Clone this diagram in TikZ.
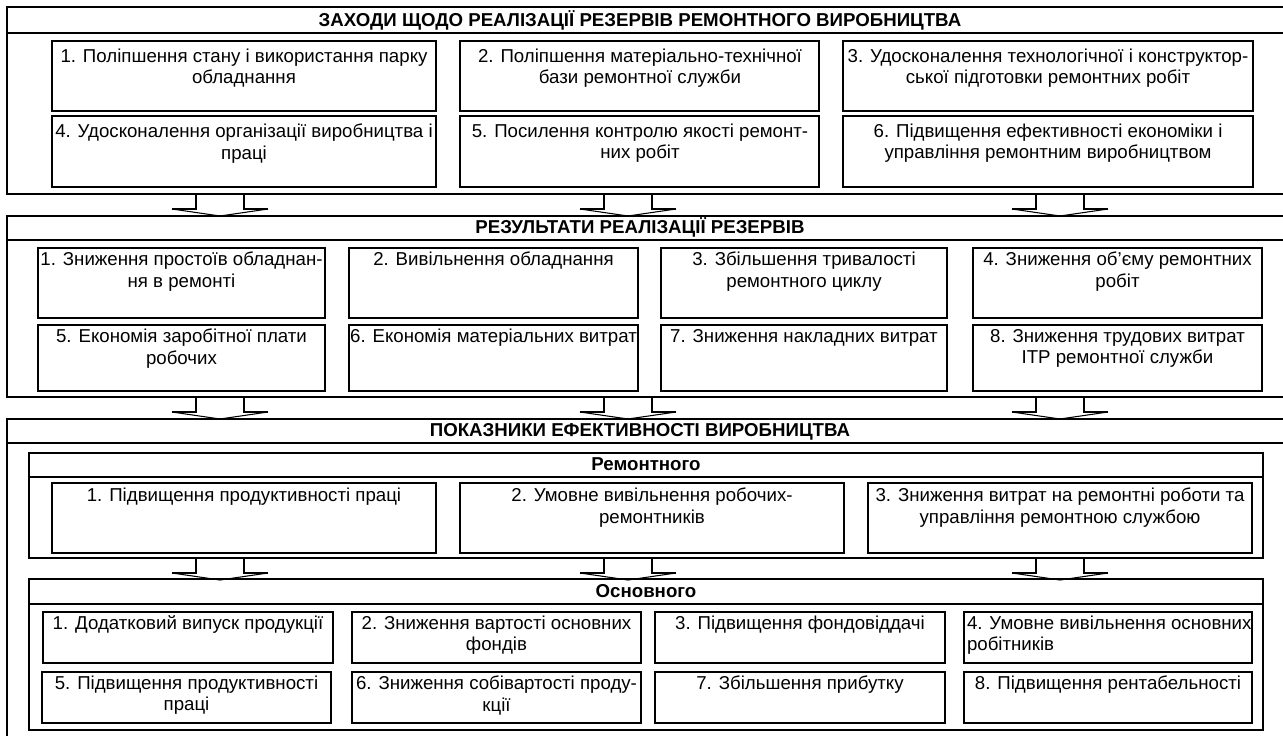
\documentclass[tikz,border=0pt]{standalone}
\usepackage{fontspec}
\setmainfont{Liberation Sans}

\tikzset{every picture/.style={line width=1.5pt}}
\tikzset{
  boxtext/.style={anchor=north, inner sep=0pt, align=center, font=\fontsize{14}{16}\selectfont},
  headtext/.style={anchor=base, inner sep=0pt, font=\bfseries\fontsize{14}{16}\selectfont},
  blockarr/.pic={
    \draw (-24,0) -- (-24,15) -- (-48,15) ;
    \draw (24,0) -- (24,15) -- (48,15) ;
    \draw [line width=0.8pt] (-48,15) -- (0,22) -- (48,15) ;
  }
}

\begin{document}
\begin{tikzpicture}[x=0.75pt,y=0.75pt,yscale=-1,xscale=1]
\useasboundingbox (0,0) rectangle (1283,736);
\clip (0,0) rectangle (1283,736);

%Shape: Rectangle [id:sec1] 
\draw (7,7) rectangle (1300,194) ;
\draw (7,33) -- (1300,33) ;
%Shape: Rectangle [id:sec2] 
\draw (7,216) rectangle (1300,397) ;
\draw (7,240) -- (1300,240) ;
%Shape: Rectangle [id:sec3] 
\draw (7,419) rectangle (1300,760) ;
\draw (7,443) -- (1300,443) ;
%Shape: Rectangle [id:rem] 
\draw (29,453) rectangle (1263,558) ;
\draw (29,477) -- (1263,477) ;
%Shape: Rectangle [id:osn] 
\draw (29,579) rectangle (1263,730) ;
\draw (29,604) -- (1263,604) ;

% Headings
\node [headtext] (h1) at (640,26) {ЗАХОДИ ЩОДО РЕАЛІЗАЦІЇ РЕЗЕРВІВ РЕМОНТНОГО ВИРОБНИЦТВА};
\node [headtext] (h2) at (640,233) {РЕЗУЛЬТАТИ РЕАЛІЗАЦІЇ РЕЗЕРВІВ};
\node [headtext] (h3) at (640,436) {ПОКАЗНИКИ ЕФЕКТИВНОСТІ ВИРОБНИЦТВА};
\node [headtext] (hrem) at (646,470) {Ремонтного};
\node [headtext] (hosn) at (646,597) {Основного};

%Shape: Rectangle [id:top row] 
\draw (52,41) rectangle (436,111) ;
\draw (460,41) rectangle (819,111) ;
\draw (843,41) rectangle (1253,111) ;
\draw (52,116) rectangle (436,187) ;
\draw (460,116) rectangle (819,187) ;
\draw (843,116) rectangle (1253,187) ;
% Text Node
\node [boxtext] (z1) at (244,48) {1. Поліпшення стану і використання парку\\обладнання};
\node [boxtext] (z2) at (640,48) {2. Поліпшення матеріально-технічної\\бази ремонтної служби};
\node [boxtext] (z3) at (1048,48) {3. Удосконалення технологічної і конструктор-\\ської підготовки ремонтних робіт};
\node [boxtext] (z4) at (244,123) {4. Удосконалення організації виробництва і\\праці};
\node [boxtext] (z5) at (640,123) {5. Посилення контролю якості ремонт-\\них робіт};
\node [boxtext] (z6) at (1048,123) {6. Підвищення ефективності економіки і\\управління ремонтним виробництвом};

%Shape: Rectangle [id:middle row] 
\draw (38,248) rectangle (325,318) ;
\draw (349,248) rectangle (638,318) ;
\draw (661,248) rectangle (947,318) ;
\draw (973,248) rectangle (1262,318) ;
\draw (38,325) rectangle (325,391) ;
\draw (349,325) rectangle (638,391) ;
\draw (661,325) rectangle (947,391) ;
\draw (973,325) rectangle (1262,391) ;
% Text Node
\node [boxtext] (r1) at (181.5,251) {1. Зниження простоїв обладнан-\\ня в ремонті};
\node [boxtext] (r2) at (493.5,251) {2. Вивільнення обладнання};
\node [boxtext] (r3) at (804,251) {3. Збільшення тривалості\\ремонтного циклу};
\node [boxtext] (r4) at (1117.5,251) {4. Зниження об'єму ремонтних\\робіт};
\node [boxtext] (r5) at (181.5,328) {5. Економія заробітної плати\\робочих};
\node [boxtext] (r6) at (493.5,328) {6. Економія матеріальних витрат};
\node [boxtext] (r7) at (804,328) {7. Зниження накладних витрат};
\node [boxtext] (r8) at (1117.5,328) {8. Зниження трудових витрат\\ІТР ремонтної служби};

%Shape: Rectangle [id:rem row] 
\draw (52,483) rectangle (436,553) ;
\draw (460,483) rectangle (844,553) ;
\draw (868,483) rectangle (1252,553) ;
% Text Node
\node [boxtext] (p1) at (244,487) {1. Підвищення продуктивності праці};
\node [boxtext] (p2) at (652,487) {2. Умовне вивільнення робочих-\\ремонтників};
\node [boxtext] (p3) at (1060,487) {3. Зниження витрат на ремонтні роботи та\\управління ремонтною службою};

%Shape: Rectangle [id:osn rows] 
\draw (43,612) rectangle (333,663) ;
\draw (352,612) rectangle (641,663) ;
\draw (655,612) rectangle (945,663) ;
\draw (964,612) rectangle (1252,663) ;
\draw (42,672) rectangle (331,723) ;
\draw (352,672) rectangle (641,723) ;
\draw (655,672) rectangle (945,723) ;
\draw (964,672) rectangle (1252,723) ;
% Text Node
\node [boxtext] (o1) at (188,615) {1. Додатковий випуск продукції};
\node [boxtext] (o2) at (496.5,615) {2. Зниження вартості основних\\фондів};
\node [boxtext] (o3) at (800,615) {3. Підвищення фондовіддачі};
\node [boxtext, anchor=north west, align=left] (o4) at (966,615) {4. Умовне вивільнення основних\\робітників};
\node [boxtext] (o5) at (186.5,675) {5. Підвищення продуктивності\\праці};
\node [boxtext] (o6) at (496.5,675) {6. Зниження собівартості проду-\\кції};
\node [boxtext] (o7) at (800,675) {7. Збільшення прибутку};
\node [boxtext] (o8) at (1108,675) {8. Підвищення рентабельності};

% Block arrows
\foreach \ax in {220,628,1060}{
  \coordinate (a1-\ax) at (\ax,194);
  \coordinate (a2-\ax) at (\ax,397);
  \coordinate (a3-\ax) at (\ax,558);
  \pic [transform shape] at (a1-\ax) {blockarr};
  \pic [transform shape] at (a2-\ax) {blockarr};
  \pic [transform shape] at (a3-\ax) {blockarr};
}

\end{tikzpicture}
\end{document}
